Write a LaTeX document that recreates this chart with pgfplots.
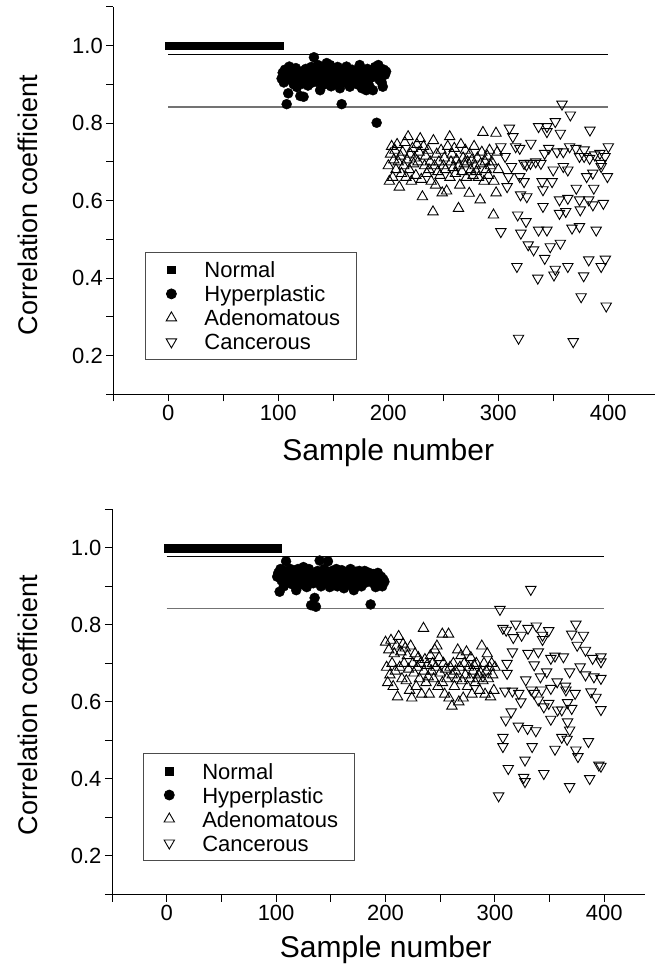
\documentclass[border=0pt]{standalone}
\usepackage{fontspec}
\setmainfont{Liberation Sans}
\usepackage{pgfplots}
\pgfplotsset{compat=1.18}
\pgfplotsset{
  corr/.style={
    scale only axis,
    xmin=-50, ymin=0.1, ymax=1.1,
    axis x line=bottom, axis y line=left,
    axis line style={-, line width=1pt},
    tick align=outside, major tick length=7pt, minor tick length=7pt,
    every tick/.style={line width=1pt, black},
    xtick={0,100,200,300,400}, minor xtick={-50,50,150,250,350},
    ytick={0.2,0.4,0.6,0.8,1.0}, minor ytick={0.1,0.3,0.5,0.7,0.9,1.1},
    yticklabel style={/pgf/number format/.cd, fixed, fixed zerofill, precision=1},
    /pgf/number format/assume math mode=true,
    ticklabel style={font=\fontsize{22}{26}\selectfont},
    xlabel={Sample number}, ylabel={Correlation coefficient},
    xlabel style={anchor=center, font=\fontsize{30}{35}\selectfont},
    ylabel style={anchor=center, font=\fontsize{27}{32}\selectfont},
    legend cell align=left,
    legend style={anchor=north west, draw=black!70, line width=0.8pt,
      inner xsep=16pt, inner ysep=5.5pt, row sep=0pt,
      font=\fontsize{22}{24}\selectfont,
      nodes={inner sep=0pt, text height=20pt, text depth=4pt}},
  },
  leg/.style={legend image code/.code={\path[draw=none,fill=none] (-10pt,0pt) -- (33pt,0pt); \draw[##1] plot coordinates {(0pt,0pt)};}},
  normal/.style={only marks, mark=square*, mark size=3.9pt, black, leg},
  hyper/.style={only marks, mark=*, mark size=5pt, black, leg},
  adeno/.style={only marks, mark=triangle, mark size=6pt, black, line width=0.9pt, leg},
  cancer/.style={only marks, mark=triangle, mark size=6pt, mark options={rotate=180}, black, line width=0.9pt, leg},
  topline/.style={black, line width=0.8pt, forget plot, no marks},
  lowline/.style={black!55, line width=1.3pt, forget plot, no marks},
}
\begin{document}
\begin{tikzpicture}
\useasboundingbox (0,0) rectangle (655pt,968pt);
% ---------------- top panel ----------------
\begin{axis}[corr, at={(113.3pt,573.6pt)}, anchor=south west,
  width=541.2pt, height=387.5pt, xmax=442,
  xlabel style={at={(axis description cs:0.508,-0.1497)}},
  ylabel style={at={(axis description cs:-0.157,0.489)}},
  legend style={at={(axis description cs:0.0586,0.3675)}}]
\addplot[topline] coordinates {(0,0.978)(400,0.978)};
\addplot[lowline] coordinates {(0,0.842)(400,0.842)};
\addplot[normal] coordinates {
(1,1)(2,1)(3,1)(4,1)(5,1)(6,1)(7,1)(8,1)(9,1)(10,1)(11,1)(12,1)(13,1)(14,1)(15,1)(16,1)(17,1)(18,1)(19,1)(20,1)
(21,1)(22,1)(23,1)(24,1)(25,1)(26,1)(27,1)(28,1)(29,1)(30,1)(31,1)(32,1)(33,1)(34,1)(35,1)(36,1)(37,1)(38,1)(39,1)(40,1)
(41,1)(42,1)(43,1)(44,1)(45,1)(46,1)(47,1)(48,1)(49,1)(50,1)(51,1)(52,1)(53,1)(54,1)(55,1)(56,1)(57,1)(58,1)(59,1)(60,1)
(61,1)(62,1)(63,1)(64,1)(65,1)(66,1)(67,1)(68,1)(69,1)(70,1)(71,1)(72,1)(73,1)(74,1)(75,1)(76,1)(77,1)(78,1)(79,1)(80,1)
(81,1)(82,1)(83,1)(84,1)(85,1)(86,1)(87,1)(88,1)(89,1)(90,1)(91,1)(92,1)(93,1)(94,1)(95,1)(96,1)(97,1)(98,1)(99,1)(100,1)(101,1)};
\addlegendentry{Normal}
\addplot[hyper] coordinates {
(103,0.915)(104,0.930)(105,0.905)(106,0.938)(107.6,0.849)(108,0.922)(109,0.877)(110,0.946)(111,0.912)(112,0.925)
(113,0.935)(114,0.900)(115,0.918)(116,0.942)(117,0.893)(118,0.928)(119,0.910)(120,0.870)(121,0.933)(122,0.902)
(123,0.868)(124,0.920)(125,0.940)(126,0.912)(127,0.897)(128,0.930)(129,0.915)(130,0.945)(131,0.905)(132.4,0.970)
(133,0.925)(134,0.938)(135,0.907)(136,0.950)(137,0.918)(138,0.885)(139,0.930)(140,0.942)(141,0.920)(142,0.900)
(143,0.935)(144,0.955)(145,0.912)(146,0.928)(147,0.950)(148,0.895)(149,0.940)(150,0.918)(151,0.932)(152,0.908)
(153,0.903)(154,0.945)(155,0.925)(156,0.890)(157.6,0.849)(158,0.935)(159,0.915)(160,0.940)(161,0.905)(162,0.946)
(163,0.922)(164,0.930)(165,0.894)(166,0.912)(167,0.938)(168,0.925)(169,0.905)(170,0.918)(171,0.935)(172,0.900)
(173,0.928)(174,0.950)(175,0.915)(176,0.890)(177,0.932)(178,0.922)(179,0.896)(180,0.885)(181,0.940)(182,0.910)
(183,0.894)(184,0.928)(185,0.918)(186,0.885)(187,0.935)(188,0.945)(189.4,0.801)(190,0.925)(191,0.950)(192,0.912)
(193,0.930)(194,0.905)(195,0.894)(196,0.938)(197,0.925)(198,0.933)};
\addlegendentry{Hyperplastic}
\addplot[adeno] coordinates {
(200,0.690)(201,0.650)(202,0.720)(203,0.740)(204,0.660)(205,0.705)(206,0.730)(207,0.680)(208,0.745)(209,0.700)
(210,0.635)(211,0.715)(212,0.670)(213,0.725)(214,0.690)(215,0.750)(216,0.660)(217,0.705)(218,0.765)(219,0.680)
(220,0.720)(221,0.650)(222,0.735)(223,0.695)(224,0.710)(225,0.665)(226,0.745)(227,0.700)(228,0.725)(229,0.760)
(230,0.655)(231,0.610)(232,0.740)(233,0.690)(234,0.715)(235,0.670)(236,0.730)(237,0.680)(238,0.700)(239,0.650)
(240.6,0.571)(241,0.755)(242,0.690)(243,0.640)(244,0.720)(245,0.675)(246,0.700)(247,0.665)(248,0.730)(249,0.620)
(250,0.690)(251,0.710)(252,0.680)(253,0.625)(254,0.740)(255.8,0.765)(256,0.660)(257,0.700)(258,0.720)(259,0.685)
(260,0.735)(261,0.670)(262,0.705)(263.8,0.580)(264,0.690)(265,0.640)(266,0.745)(267,0.675)(268,0.710)(269,0.695)
(270,0.730)(271,0.660)(272,0.700)(273.6,0.619)(274,0.720)(275,0.680)(276,0.705)(277,0.665)(278,0.740)(279,0.690)
(280,0.675)(281,0.710)(282,0.660)(283.5,0.602)(284,0.695)(285,0.725)(286,0.776)(287,0.650)(288,0.700)(289,0.680)
(290,0.715)(291,0.665)(292,0.730)(293,0.690)(294,0.700)(295.6,0.563)(296,0.650)(297.9,0.774)(298,0.620)(299,0.725)(300,0.680)};
\addlegendentry{Adenomatous}
\addplot[cancer] coordinates {
(302.3,0.739)(302.3,0.520)(306.2,0.714)(308,0.636)(309.3,0.662)(310.1,0.787)(312,0.688)(313.2,0.765)(315.8,0.739)(316.9,0.430)
(317.6,0.563)(318.4,0.245)(319.5,0.735)(319.5,0.662)(320.2,0.615)(320.5,0.516)(323.4,0.696)(323.4,0.649)(325.2,0.546)(325.6,0.692)
(325.9,0.610)(327.2,0.486)(329.2,0.696)(329.6,0.748)(332.1,0.473)(334.0,0.700)(335.9,0.400)(336.6,0.791)(336.6,0.524)(338.7,0.696)
(339.8,0.649)(340.6,0.628)(340.6,0.585)(342.1,0.722)(342.2,0.451)(344.2,0.791)(344.2,0.778)(344.2,0.524)(345.8,0.735)(347.2,0.481)
(348.9,0.649)(349.9,0.679)(350.6,0.408)(351.8,0.804)(351.8,0.423)(353.4,0.726)(355.6,0.602)(355.6,0.567)(356.4,0.774)(356.4,0.490)
(357.9,0.849)(359.1,0.726)(359.1,0.688)(361.3,0.572)(363.2,0.679)(363.2,0.606)(363.2,0.430)(364.8,0.739)(365.5,0.821)(367.0,0.529)
(368.1,0.236)(370.5,0.735)(370.9,0.632)(373.8,0.714)(373.8,0.602)(373.8,0.533)(374.5,0.576)(375.3,0.352)(377.6,0.406)(378.1,0.731)
(378,0.714)(380.3,0.662)(382.2,0.602)(382.2,0.447)(383.3,0.782)(383,0.709)(385.9,0.671)(386.0,0.589)(386.8,0.632)(387.6,0.718)
(389.0,0.524)(392.4,0.722)(393.3,0.696)(393.5,0.688)(393.5,0.430)(395.5,0.593)(397.1,0.714)(397.3,0.449)(398.1,0.328)(399.2,0.662)(400,0.739)};
\addlegendentry{Cancerous}
\end{axis}
% ---------------- bottom panel ----------------
\begin{axis}[corr, at={(112pt,73.5pt)}, anchor=south west,
  width=532.8pt, height=385.2pt, xmax=437,
  xlabel style={at={(axis description cs:0.514,-0.144)}},
  ylabel style={at={(axis description cs:-0.158,0.492)}},
  legend style={at={(axis description cs:0.058,0.367)}}]
\addplot[topline] coordinates {(0,0.978)(400,0.978)};
\addplot[lowline] coordinates {(0,0.842)(400,0.842)};
\addplot[normal] coordinates {
(1,1)(2,1)(3,1)(4,1)(5,1)(6,1)(7,1)(8,1)(9,1)(10,1)(11,1)(12,1)(13,1)(14,1)(15,1)(16,1)(17,1)(18,1)(19,1)(20,1)
(21,1)(22,1)(23,1)(24,1)(25,1)(26,1)(27,1)(28,1)(29,1)(30,1)(31,1)(32,1)(33,1)(34,1)(35,1)(36,1)(37,1)(38,1)(39,1)(40,1)
(41,1)(42,1)(43,1)(44,1)(45,1)(46,1)(47,1)(48,1)(49,1)(50,1)(51,1)(52,1)(53,1)(54,1)(55,1)(56,1)(57,1)(58,1)(59,1)(60,1)
(61,1)(62,1)(63,1)(64,1)(65,1)(66,1)(67,1)(68,1)(69,1)(70,1)(71,1)(72,1)(73,1)(74,1)(75,1)(76,1)(77,1)(78,1)(79,1)(80,1)
(81,1)(82,1)(83,1)(84,1)(85,1)(86,1)(87,1)(88,1)(89,1)(90,1)(91,1)(92,1)(93,1)(94,1)(95,1)(96,1)(97,1)(98,1)(99,1)(100,1)(101,1)};
\addlegendentry{Normal}
\addplot[hyper] coordinates {
(101,0.925)(102,0.935)(103.2,0.886)(104,0.945)(105,0.915)(106,0.930)(107,0.900)(108,0.940)(109.1,0.965)(110,0.920)
(111,0.935)(112,0.910)(113,0.945)(114,0.925)(115,0.905)(116,0.938)(117,0.918)(118.4,0.890)(119,0.930)(120,0.945)
(121,0.912)(122,0.928)(123,0.940)(124,0.905)(125,0.950)(126,0.920)(127,0.935)(128,0.898)(129,0.925)(130,0.945)
(131,0.915)(132,0.851)(133,0.930)(134,0.908)(135.2,0.870)(136.4,0.847)(137,0.925)(138,0.940)(139.8,0.967)(140,0.915)
(141,0.900)(142,0.935)(143,0.920)(144,0.945)(145,0.910)(146,0.928)(147.4,0.965)(148,0.935)(149,0.898)(150,0.920)
(151,0.940)(152,0.905)(153,0.930)(154,0.915)(155,0.945)(156,0.900)(157,0.925)(158,0.935)(159,0.910)(160,0.942)
(161,0.920)(162,0.895)(163,0.930)(164,0.915)(165,0.938)(166,0.905)(167,0.925)(168,0.945)(169,0.912)(170,0.930)
(171,0.890)(172,0.920)(173,0.938)(174,0.905)(175,0.928)(176,0.940)(177,0.915)(178,0.900)(179,0.932)(180,0.922)
(181,0.940)(182,0.910)(183,0.928)(184,0.918)(185,0.935)(186.4,0.853)(187,0.925)(188,0.910)(189,0.932)(190,0.920)
(191,0.898)(192,0.928)(193,0.935)(194,0.915)(195,0.905)(196,0.925)(197,0.900)(198,0.918)(199,0.912)};
\addlegendentry{Hyperplastic}
\addplot[adeno] coordinates {
(200,0.755)(201,0.690)(202,0.650)(203,0.735)(204,0.670)(205,0.760)(206,0.700)(207,0.640)(208,0.725)(209,0.680)
(210,0.745)(211,0.613)(212,0.770)(213,0.690)(214,0.730)(215,0.660)(216,0.750)(217,0.700)(218,0.740)(219,0.655)
(220,0.720)(221,0.685)(222,0.630)(223,0.745)(224,0.610)(225,0.700)(226,0.675)(227,0.725)(228,0.640)(229,0.690)
(230,0.715)(231,0.660)(232,0.700)(233,0.620)(234.7,0.791)(235,0.680)(236,0.710)(237,0.650)(238,0.695)(239,0.665)
(240,0.620)(241,0.720)(242,0.680)(243,0.700)(244,0.660)(245,0.735)(246,0.690)(247,0.745)(248,0.640)(249,0.715)
(250,0.675)(251.9,0.776)(252,0.650)(253,0.700)(254,0.620)(255,0.685)(256,0.660)(257.6,0.776)(258,0.610)(259,0.690)
(260.7,0.589)(261,0.670)(262,0.700)(263,0.640)(264,0.680)(265,0.660)(266,0.735)(267,0.600)(268,0.690)(269,0.720)
(270,0.655)(271,0.610)(272,0.700)(273,0.670)(274,0.730)(275,0.640)(276,0.690)(277,0.660)(278,0.715)(279,0.620)
(280,0.680)(281,0.695)(282,0.650)(283,0.700)(284,0.660)(285,0.670)(286,0.630)(287,0.675)(288,0.745)(289,0.655)
(290,0.700)(291,0.620)(292,0.680)(293,0.725)(294,0.660)(295,0.690)(296,0.613)(297,0.700)(298,0.670)(299,0.630)(300,0.690)};
\addlegendentry{Adenomatous}
\addplot[cancer] coordinates {
(303.4,0.356)(304.6,0.840)(307.3,0.791)(307.3,0.508)(307.3,0.484)(309.2,0.628)(309.9,0.553)(310.3,0.786)(311.1,0.700)(311.1,0.674)
(312.2,0.427)(314.9,0.574)(316.0,0.730)(316.0,0.628)(316.8,0.767)(319.1,0.802)(321.4,0.537)(321.8,0.622)(323.7,0.600)(324.4,0.773)
(326.3,0.404)(327.5,0.449)(327.5,0.393)(328.2,0.657)(329.8,0.531)(330.2,0.791)(330.2,0.726)(332.8,0.892)(333.2,0.631)(334.0,0.484)
(335.9,0.696)(335.9,0.622)(337.4,0.525)(337.8,0.797)(339.7,0.730)(339.7,0.605)(341.6,0.665)(342.7,0.631)(343.5,0.773)(343.5,0.762)
(344.7,0.587)(344.7,0.414)(347.3,0.678)(349.2,0.785)(349.2,0.596)(351.1,0.713)(351.1,0.635)(351.1,0.555)(354.9,0.719)(354.9,0.477)
(356.9,0.652)(357.3,0.579)(361.1,0.579)(361.1,0.508)(362.6,0.717)(364.5,0.641)(364.9,0.631)(366.0,0.503)(366.4,0.598)(366.4,0.548)
(368.3,0.678)(368.3,0.527)(368.3,0.380)(370.2,0.776)(370.2,0.583)(373.3,0.622)(374.0,0.802)(374.0,0.475)(375.2,0.747)(375.9,0.458)
(377.9,0.691)(380.9,0.773)(382.8,0.734)(382.8,0.670)(385.5,0.497)(386.6,0.401)(387.8,0.626)(389.3,0.713)(390.5,0.665)(392.4,0.612)
(395.0,0.436)(396.9,0.717)(396.9,0.704)(396.9,0.661)(396.9,0.580)(396.9,0.433)};
\addlegendentry{Cancerous}
\end{axis}
\end{tikzpicture}
\end{document}
